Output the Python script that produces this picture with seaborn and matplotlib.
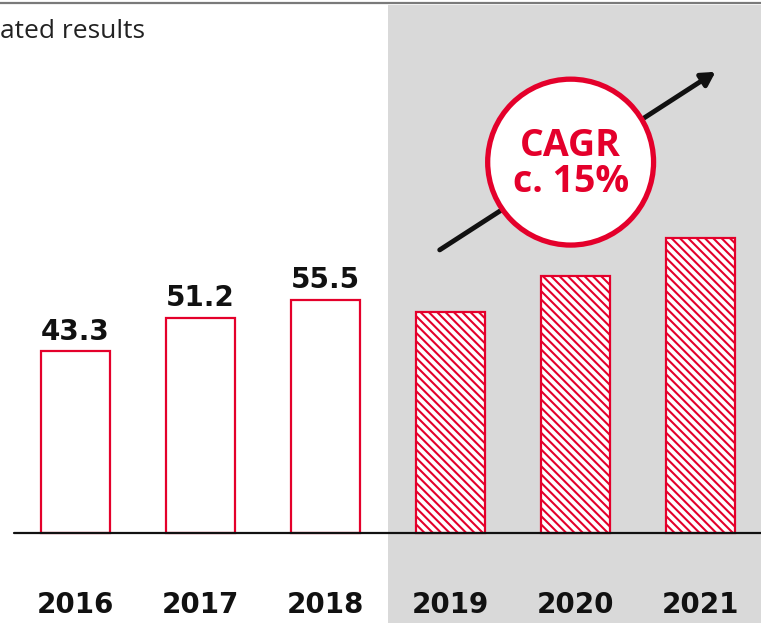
import matplotlib
matplotlib.use("Agg")
import matplotlib.pyplot as plt
import seaborn as sns
from matplotlib.patches import Ellipse
from matplotlib.lines import Line2D

years = ["2016", "2017", "2018", "2019", "2020", "2021"]
values = [43.3, 51.2, 55.5, 52.6, 61.1, 70.2]
value_labels = ["43.3", "51.2", "55.5", "", "", ""]
forecast = [False, False, False, True, True, True]
title_text = "ated results"
cagr_text = "CAGR\nc. 15%"

RED = "#e4002b"
GRAY = "#d9d9d9"
INK = "#111111"
NUM_FONT = ["DejaVu Sans"]

sns.set_style("white")
plt.rcParams["font.family"] = ["Open Sans", "DejaVu Sans"]
plt.rcParams["hatch.linewidth"] = 1.5

fig = plt.figure(figsize=(7.61, 6.23), dpi=100)
ax = fig.add_axes([0, 0, 1, 1])

sns.barplot(x=years, y=values, ax=ax, width=0.552, color="white", saturation=1,
            edgecolor=RED, linewidth=1.6, zorder=2)
bars = ax.containers[0]
for patch, f in zip(bars, forecast):
    if f:
        patch.set_hatch("\\\\\\\\")

ax.bar_label(bars, labels=value_labels, padding=4, fontsize=20, fontweight="bold",
             color=INK, family=NUM_FONT)

# shaded forecast area
ax.axvspan(2.5, 6, ymin=0, ymax=1 - 5 / 623, color=GRAY, lw=0, zorder=0)

# baseline
ax.axhline(0, xmin=14 / 761, xmax=1, color=INK, lw=1.6, zorder=3)

# year labels under the baseline
for i, yr in enumerate(years):
    ax.text(i, -17.1, yr, ha="center", va="center", fontsize=20, fontweight="bold",
            color=INK, family=NUM_FONT)

# growth arrow + CAGR bubble
ax.annotate("", xy=(5.124, 109.8), xytext=(2.916, 67.4),
            arrowprops=dict(arrowstyle="-|>,head_length=0.8,head_width=0.45",
                            color=INK, lw=3.5, shrinkA=0, shrinkB=0), zorder=3)
ax.add_patch(Ellipse((3.964, 88.3), 1.328, 39.5, facecolor="white", edgecolor=RED, lw=3.8, zorder=4))
ax.text(3.964, 87.9, cagr_text, ha="center", va="center", fontsize=27, fontweight="bold",
        color=RED, linespacing=0.95, zorder=5)

ax.set_xlim(-0.604, 5.488)
ax.set_ylim(-21.43, 126.9)
ax.axis("off")

fig.add_artist(Line2D([0, 1], [1 - 2.7 / 623] * 2, transform=fig.transFigure, color="#7a7a7a", lw=1.6))
fig.text(0.0, 1 - 31 / 623, title_text, fontsize=19, va="center", ha="left", color="#222222")

plt.savefig("out.png", dpi=100)
